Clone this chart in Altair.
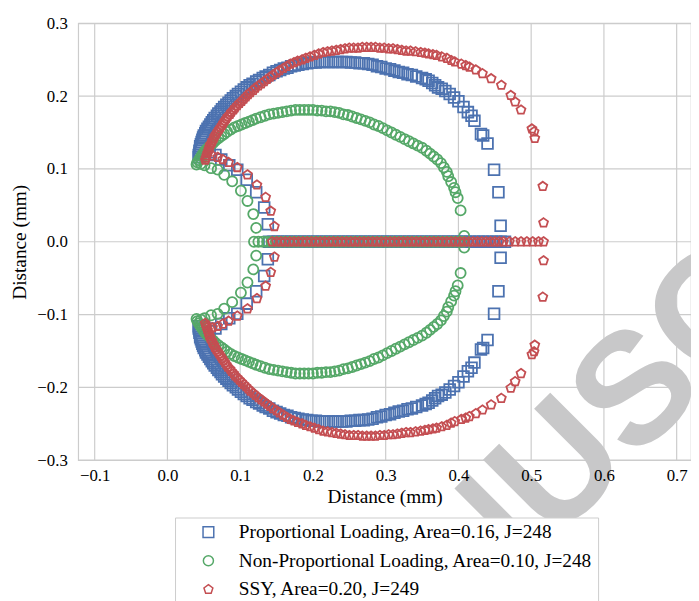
import altair as alt
import pandas as pd

SERIES = ["Proportional Loading, Area=0.16, J=248",
          "Non-Proportional Loading, Area=0.10, J=248",
          "SSY, Area=0.20, J=249"]
COLORS = ["#4C72B0", "#55A868", "#C44E52"]
PENTAGON = "M0,-1L0.951,-0.309L0.588,0.809L-0.588,0.809L-0.951,-0.309Z"
SHAPES = ["square", "circle", PENTAGON]
SIZES = [118, 90, 125]

X_TICKS = [-0.1, 0.0, 0.1, 0.2, 0.3, 0.4, 0.5, 0.6, 0.7]
Y_TICKS = [-0.3, -0.2, -0.1, 0.0, 0.1, 0.2, 0.3]
X_DOMAIN = [-0.1227, 0.7197]
Y_DOMAIN = [-0.3, 0.3]

# ---- Proportional loading (upper half; the lower half is its mirror image) ----
prop_arc_x = [0.043, 0.043, 0.044, 0.044, 0.045, 0.045, 0.046, 0.047, 0.048, 0.049,
              0.050, 0.052, 0.053, 0.055, 0.057, 0.059, 0.061, 0.063, 0.065, 0.068,
              0.070, 0.073, 0.075, 0.078, 0.081, 0.084, 0.087, 0.090, 0.094, 0.097,
              0.101, 0.105, 0.109, 0.113, 0.117, 0.122, 0.126, 0.131, 0.135, 0.140,
              0.145, 0.150, 0.155, 0.160, 0.165, 0.170, 0.175, 0.180, 0.186, 0.192,
              0.198, 0.204, 0.210, 0.216, 0.222, 0.228, 0.234, 0.240, 0.246, 0.252,
              0.258, 0.264, 0.270, 0.276, 0.282, 0.288, 0.294, 0.300, 0.306, 0.312,
              0.318, 0.324, 0.330, 0.336, 0.342, 0.350, 0.355, 0.359, 0.364, 0.368,
              0.372, 0.377, 0.382, 0.388, 0.394, 0.400, 0.407, 0.413, 0.418, 0.422,
              0.431, 0.434, 0.440, 0.449, 0.455, 0.458]
prop_arc_y = [0.116, 0.119, 0.122, 0.125, 0.128, 0.131, 0.134, 0.137, 0.140, 0.143,
              0.146, 0.149, 0.152, 0.155, 0.158, 0.161, 0.164, 0.167, 0.170, 0.173,
              0.176, 0.179, 0.182, 0.185, 0.188, 0.191, 0.194, 0.197, 0.200, 0.203,
              0.206, 0.209, 0.212, 0.215, 0.217, 0.220, 0.222, 0.225, 0.227, 0.229,
              0.232, 0.234, 0.236, 0.238, 0.239, 0.241, 0.242, 0.243, 0.244, 0.245,
              0.246, 0.246, 0.247, 0.247, 0.247, 0.247, 0.247, 0.247, 0.247, 0.246,
              0.246, 0.245, 0.245, 0.244, 0.243, 0.241, 0.240, 0.238, 0.237, 0.235,
              0.233, 0.232, 0.230, 0.229, 0.227, 0.225, 0.223, 0.221, 0.218, 0.215,
              0.212, 0.210, 0.207, 0.203, 0.198, 0.193, 0.185, 0.178, 0.173, 0.166,
              0.148, 0.146, 0.135, 0.099, 0.068, 0.022]
prop_inner_x = [0.058, 0.066, 0.074, 0.085, 0.096, 0.109, 0.122, 0.133, 0.138]
prop_inner_y = [0.123, 0.119, 0.113, 0.105, 0.099, 0.085, 0.068, 0.047, 0.024]
prop_axis_x = [0.140, 0.146, 0.152, 0.158, 0.164, 0.170, 0.176, 0.182, 0.188, 0.194,
               0.200, 0.206, 0.212, 0.218, 0.224, 0.230, 0.236, 0.242, 0.248, 0.254,
               0.260, 0.266, 0.272, 0.278, 0.284, 0.290, 0.296, 0.302, 0.308, 0.314,
               0.320, 0.326, 0.332, 0.338, 0.344, 0.350, 0.356, 0.362, 0.368, 0.374,
               0.380, 0.386, 0.392, 0.398, 0.404, 0.410, 0.416, 0.422, 0.428, 0.434,
               0.440, 0.446, 0.452, 0.458, 0.464]

# ---- Non-proportional loading ----
nonp_arc_x = [0.040, 0.041, 0.043, 0.045, 0.047, 0.049, 0.051, 0.054, 0.057, 0.060,
              0.063, 0.066, 0.070, 0.074, 0.078, 0.082, 0.087, 0.092, 0.097, 0.102,
              0.107, 0.112, 0.117, 0.122, 0.128, 0.134, 0.140, 0.146, 0.152, 0.158,
              0.164, 0.170, 0.176, 0.182, 0.188, 0.194, 0.200, 0.206, 0.212, 0.218,
              0.224, 0.230, 0.236, 0.242, 0.248, 0.254, 0.260, 0.266, 0.272, 0.278,
              0.284, 0.290, 0.296, 0.302, 0.308, 0.314, 0.320, 0.326, 0.332, 0.338,
              0.344, 0.350, 0.356, 0.361, 0.366, 0.371, 0.376, 0.380, 0.384, 0.386,
              0.390, 0.394, 0.396, 0.399, 0.403, 0.408]
nonp_arc_y = [0.106, 0.109, 0.112, 0.115, 0.118, 0.121, 0.124, 0.127, 0.130, 0.133,
              0.136, 0.139, 0.142, 0.145, 0.148, 0.151, 0.154, 0.157, 0.159, 0.161,
              0.163, 0.165, 0.167, 0.169, 0.171, 0.173, 0.175, 0.176, 0.177, 0.178,
              0.179, 0.180, 0.181, 0.181, 0.181, 0.181, 0.181, 0.180, 0.180, 0.179,
              0.179, 0.178, 0.177, 0.175, 0.174, 0.172, 0.170, 0.168, 0.166, 0.164,
              0.161, 0.159, 0.156, 0.153, 0.150, 0.147, 0.144, 0.141, 0.138, 0.135,
              0.132, 0.129, 0.125, 0.121, 0.117, 0.113, 0.108, 0.102, 0.096, 0.090,
              0.082, 0.074, 0.068, 0.060, 0.043, 0.008]
nonp_inner_x = [0.046, 0.051, 0.060, 0.069, 0.078, 0.089, 0.101, 0.110, 0.118, 0.122]
nonp_inner_y = [0.107, 0.105, 0.101, 0.099, 0.092, 0.083, 0.070, 0.056, 0.038, 0.019]
nonp_axis_x = [0.119, 0.125, 0.131, 0.137, 0.143, 0.149, 0.155, 0.161, 0.167, 0.173,
               0.179, 0.185, 0.191, 0.197, 0.203, 0.209, 0.215, 0.221, 0.227, 0.233,
               0.239, 0.245, 0.251, 0.257, 0.263, 0.269, 0.275, 0.281, 0.287, 0.293,
               0.299, 0.305, 0.311, 0.317, 0.323, 0.329, 0.335, 0.341, 0.347, 0.353,
               0.359, 0.365, 0.371, 0.377, 0.383, 0.389, 0.395, 0.401, 0.407]

# ---- SSY ----
ssy_arc_x = [0.052, 0.053, 0.054, 0.055, 0.056, 0.057, 0.058, 0.059, 0.061, 0.062,
             0.064, 0.065, 0.067, 0.069, 0.071, 0.073, 0.075, 0.077, 0.079, 0.081,
             0.083, 0.086, 0.088, 0.091, 0.093, 0.096, 0.099, 0.102, 0.105, 0.108,
             0.111, 0.114, 0.118, 0.121, 0.125, 0.129, 0.133, 0.137, 0.141, 0.145,
             0.150, 0.154, 0.159, 0.164, 0.169, 0.174, 0.179, 0.185, 0.190, 0.196,
             0.202, 0.208, 0.214, 0.220, 0.226, 0.232, 0.238, 0.244, 0.250, 0.256,
             0.262, 0.268, 0.274, 0.280, 0.286, 0.292, 0.298, 0.304, 0.310, 0.316,
             0.322, 0.328, 0.334, 0.341, 0.348, 0.354, 0.359, 0.365, 0.370, 0.377,
             0.384, 0.390, 0.395, 0.404, 0.410, 0.415, 0.424, 0.433, 0.445, 0.459,
             0.472, 0.478, 0.486, 0.501, 0.504, 0.505, 0.516, 0.517]
ssy_arc_y = [0.112, 0.115, 0.118, 0.121, 0.124, 0.127, 0.130, 0.133, 0.136, 0.139,
             0.142, 0.145, 0.148, 0.151, 0.154, 0.157, 0.160, 0.163, 0.166, 0.169,
             0.172, 0.175, 0.178, 0.181, 0.184, 0.187, 0.190, 0.193, 0.196, 0.199,
             0.202, 0.205, 0.208, 0.211, 0.214, 0.217, 0.220, 0.223, 0.226, 0.229,
             0.232, 0.235, 0.238, 0.241, 0.244, 0.246, 0.248, 0.250, 0.252, 0.254,
             0.256, 0.258, 0.260, 0.261, 0.262, 0.263, 0.264, 0.265, 0.266, 0.266,
             0.266, 0.267, 0.267, 0.267, 0.267, 0.266, 0.266, 0.265, 0.265, 0.264,
             0.263, 0.262, 0.262, 0.261, 0.260, 0.259, 0.258, 0.257, 0.256, 0.254,
             0.252, 0.249, 0.247, 0.244, 0.242, 0.240, 0.236, 0.231, 0.224, 0.215,
             0.201, 0.192, 0.181, 0.155, 0.151, 0.142, 0.076, 0.026]
ssy_inner_x = [0.062, 0.069, 0.076, 0.084, 0.096, 0.110, 0.123, 0.135, 0.142, 0.147]
ssy_inner_y = [0.118, 0.116, 0.113, 0.109, 0.102, 0.092, 0.078, 0.061, 0.042, 0.021]
ssy_axis_x = [0.144, 0.150, 0.156, 0.162, 0.168, 0.174, 0.180, 0.186, 0.192, 0.198,
              0.204, 0.210, 0.216, 0.222, 0.228, 0.234, 0.240, 0.246, 0.252, 0.258,
              0.264, 0.270, 0.276, 0.282, 0.288, 0.294, 0.300, 0.306, 0.312, 0.318,
              0.324, 0.330, 0.336, 0.342, 0.348, 0.354, 0.360, 0.366, 0.372, 0.378,
              0.384, 0.390, 0.396, 0.402, 0.408, 0.414, 0.420, 0.426, 0.432, 0.438,
              0.444, 0.450, 0.456, 0.462, 0.470, 0.478, 0.486, 0.494, 0.502, 0.510,
              0.517]

WATERMARK = ["MANUSCRIPT"]
AXIS_TITLE = "Distance (mm)"

groups = [
    (SERIES[0], prop_arc_x, prop_arc_y, prop_inner_x, prop_inner_y, prop_axis_x),
    (SERIES[1], nonp_arc_x, nonp_arc_y, nonp_inner_x, nonp_inner_y, nonp_axis_x),
    (SERIES[2], ssy_arc_x, ssy_arc_y, ssy_inner_x, ssy_inner_y, ssy_axis_x),
]

rows = []
for name, ax, ay, ix, iy, zx in groups:
    for x, y in zip(ax, ay):
        rows.append((name, x, y))
        rows.append((name, x, -y))
    for x, y in zip(ix, iy):
        rows.append((name, x, y))
        rows.append((name, x, -y))
    for x in zx:
        rows.append((name, x, 0.0))

df = pd.DataFrame(rows, columns=["series", "x", "y"])
df["idx"] = range(len(df))

SERIF = "Liberation Serif, Times New Roman, Times, DejaVu Serif, serif"
GRID = "#cccccc"

xscale = alt.Scale(domain=X_DOMAIN, nice=False, zero=False)
yscale = alt.Scale(domain=Y_DOMAIN, nice=False, zero=False)
xaxis = alt.Axis(values=X_TICKS, format=".1f", title=AXIS_TITLE,
                 labelPadding=8, titlePadding=4, zindex=1, grid=False)
yaxis = alt.Axis(values=Y_TICKS, format=".1f", title=AXIS_TITLE,
                 labelPadding=11, titlePadding=7, zindex=1, grid=False)


def make_legend():
    return alt.Legend(title=None, orient="none", legendX=98, legendY=500,
                      direction="vertical", strokeColor=GRID,
                      fillColor="white", padding=5, zindex=2,
                      labelFont=SERIF, labelFontSize=19.5,
                      labelColor="black", symbolSize=70,
                      symbolStrokeWidth=1.5, labelOffset=21,
                      rowPadding=8, symbolOffset=19, labelLimit=600)


# grid lines drawn as layers beneath the markers (so that axis labels can sit on top)
grid_x = alt.Chart(pd.DataFrame({"x": X_TICKS})).mark_rule(
    color=GRID, strokeWidth=1.2
).encode(x=alt.X("x:Q", scale=xscale, axis=xaxis))

grid_y = alt.Chart(pd.DataFrame({"y": Y_TICKS})).mark_rule(
    color=GRID, strokeWidth=1.2
).encode(y=alt.Y("y:Q", scale=yscale, axis=yaxis))

points = alt.Chart(df).mark_point(filled=False, strokeWidth=1.8, opacity=1).encode(
    x=alt.X("x:Q", scale=xscale, axis=xaxis),
    y=alt.Y("y:Q", scale=yscale, axis=yaxis),
    color=alt.Color("series:N", scale=alt.Scale(domain=SERIES, range=COLORS),
                    legend=make_legend()),
    shape=alt.Shape("series:N", scale=alt.Scale(domain=SERIES, range=SHAPES),
                    legend=make_legend()),
    size=alt.Size("series:N", scale=alt.Scale(domain=SERIES, range=SIZES), legend=None),
    order=alt.Order("idx:Q"),
)

wm = alt.Chart(pd.DataFrame({"t": WATERMARK})).mark_text(
    font="Liberation Sans, Arial, sans-serif", fontSize=160, fontWeight="bold",
    angle=315, color="#c8c8c9", align="left", baseline="alphabetic"
).encode(text="t:N", x=alt.value(223), y=alt.value(784))

chart = alt.layer(grid_x, grid_y, points, wm).properties(
    width=620, height=442,
    autosize=alt.AutoSizeParams(type="none"),
    padding={"left": 71, "top": 12, "right": 0, "bottom": 139},
).configure(font=SERIF).configure_view(
    stroke=GRID, strokeWidth=1.2
).configure_axis(
    labelFont=SERIF, labelFontSize=17, labelColor="black",
    titleFont=SERIF, titleFontSize=19.5, titleFontWeight="normal", titleColor="black",
    ticks=False, domain=False, grid=False,
)

chart.save("out.html", embed_options={"renderer": "svg", "actions": False})
